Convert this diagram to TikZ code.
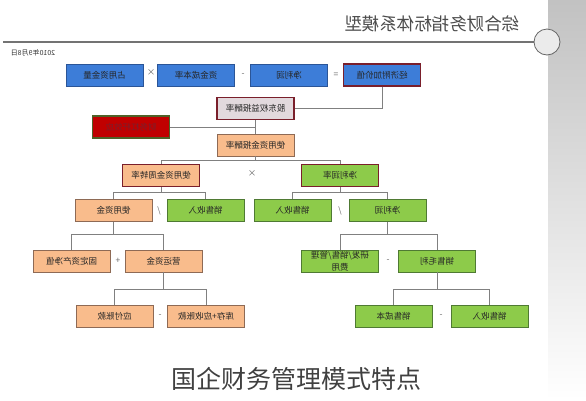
\documentclass[tikz,border=0pt]{standalone}
\usepackage{fontspec}
\setmainfont{Noto Sans CJK SC}
\usepackage{graphicx}
\usetikzlibrary{positioning}
\definecolor{bleuF}{HTML}{3D7DD8}
\definecolor{bleuT}{HTML}{2B5597}
\definecolor{orangeF}{HTML}{F9BC8C}
\definecolor{orangeT}{HTML}{8E6A55}
\definecolor{vertF}{HTML}{8DCB4A}
\definecolor{vertT}{HTML}{4F7A33}
\definecolor{rougeF}{HTML}{C00000}
\definecolor{rougeT}{HTML}{7A1F2B}
\definecolor{roseF}{HTML}{E2D9DD}
\definecolor{oliveT}{HTML}{4F6228}
\newcommand{\mir}[1]{\reflectbox{#1}}

\begin{document}
\begin{tikzpicture}[x=1pt,y=-1pt]
% définition des paramètres
\tikzstyle boite=[draw,line width=0.9pt,minimum width=77pt,minimum height=22pt,inner sep=1pt,font=\fontsize{8.5}{9.5}\selectfont]
\tikzstyle bleue=[boite,fill=bleuF,draw=bleuT,text=black!85]
\tikzstyle orange=[boite,fill=orangeF,draw=orangeT,text=black!85]
\tikzstyle verte=[boite,fill=vertF,draw=vertT,text=black!85]
\tikzstyle cadre=[draw=rougeT,line width=1.4pt]
\tikzstyle lien=[color=black!50,line width=0.9pt]
\tikzstyle op=[font=\fontsize{8.5}{9.5}\selectfont,text=black!60,inner sep=1pt]
\newcommand{\fourche}[4]{%
  \draw[lien] (#1.south) -- ++(0,#4) coordinate (#1-f);
  \draw[lien] (#2.north) |- (#1-f) -| (#3.north);}
\useasboundingbox (0,0) rectangle (586,400);
% le fond
\shade[top color=black!24,middle color=black!19,bottom color=white] (548,0) rectangle (586,400);
\draw[color=black!55,line width=1.3pt] (3,42) -- (534,42);
\draw[color=black!60,fill=black!8,line width=0.8pt] (547,42) circle (13);
\node[font=\fontsize{17.5}{18}\selectfont,text=black!70] (titre) at (432,24) {\mir{综合财务指标体系模型}};
\node[font=\fontsize{7}{8}\selectfont,text=black!80,inner sep=0pt] (date) at (33,53) {\mir{2010年9月8日}};
% première ligne
\node[bleue] (zyzj) at (104.5,75) {\mir{占用资金量}};
\node[op] (op1) at (151,73) {×};
\node[bleue] (zjcb) at (196,75) {\mir{资金成本率}};
\node[op] (op2) at (243,75) {-};
\node[bleue] (jlr) at (289,75) {\mir{净利润}};
\node[op] (op3) at (336,75) {=};
\node[bleue,cadre] (eva) at (382,75) {\mir{经济附加价值}};
% les ratios
\node[boite,fill=roseF,cadre,text=black!85] (gdqy) at (255.5,108.5) {\mir{股东权益报酬率}};
\node[boite,fill=rougeF,draw=oliveT,line width=1.4pt,text=rougeT] (ggxy) at (131,127) {\mir{财务杠杆效应}};
\node[orange] (syzb) at (255.5,145) {\mir{使用资金报酬率}};
\node[orange,cadre] (zzl) at (161,175.5) {\mir{使用资金周转率}};
\node[op] (op4) at (252,174) {×};
\node[verte,cadre] (jllv) at (340,175.5) {\mir{净利润率}};
% quatrième ligne
\node[orange] (syzj) at (113.5,210.5) {\mir{使用资金}};
\node[op] (op5) at (159,210.5) {\textbackslash};
\node[verte] (xssra) at (205.5,210.5) {\mir{销售收入}};
\node[verte] (xssrb) at (292.5,210.5) {\mir{销售收入}};
\node[op] (op6) at (340,210.5) {\textbackslash};
\node[verte] (jlrb) at (387.5,210.5) {\mir{净利润}};
% cinquième ligne
\node[orange] (gdzc) at (71.5,261) {\mir{固定资产净值}};
\node[op] (op7) at (118,261) {+};
\node[orange] (yyzj) at (163.5,261) {\mir{营运资金}};
\node[verte,align=center] (fy) at (340,261) {\mir{\shortstack{研发/销售/管理\\费用}}};
\node[op] (op8) at (388,261) {-};
\node[verte] (ml) at (437,261) {\mir{销售毛利}};
% dernière ligne
\node[orange] (yfzk) at (114.5,316) {\mir{应付账款}};
\node[op] (op9) at (160,316) {-};
\node[orange] (kc) at (206,316) {\mir{库存+应收账款}};
\node[verte] (xscb) at (393.5,316) {\mir{销售成本}};
\node[op] (op10) at (441,316) {-};
\node[verte] (xssrc) at (489.5,316) {\mir{销售收入}};
% les liens
\draw[lien] (eva.south) |- (gdqy.east);
\draw[lien] (gdqy.south) -- (syzb.north);
\draw[lien] (ggxy.east) -- (ggxy.east -| gdqy.south);
\fourche{syzb}{zzl}{jllv}{4}
\fourche{zzl}{syzj}{xssra}{5}
\fourche{jllv}{xssrb}{jlrb}{5}
\fourche{syzj}{gdzc}{yyzj}{12.5}
\fourche{jlrb}{fy}{ml}{12.5}
\fourche{yyzj}{yfzk}{kc}{17}
\fourche{ml}{xscb}{xssrc}{17}
% la légende
\node[font=\fontsize{25}{26}\selectfont,text=black!75] (legende) at (296,379) {国企财务管理模式特点};
\end{tikzpicture}
\end{document}
